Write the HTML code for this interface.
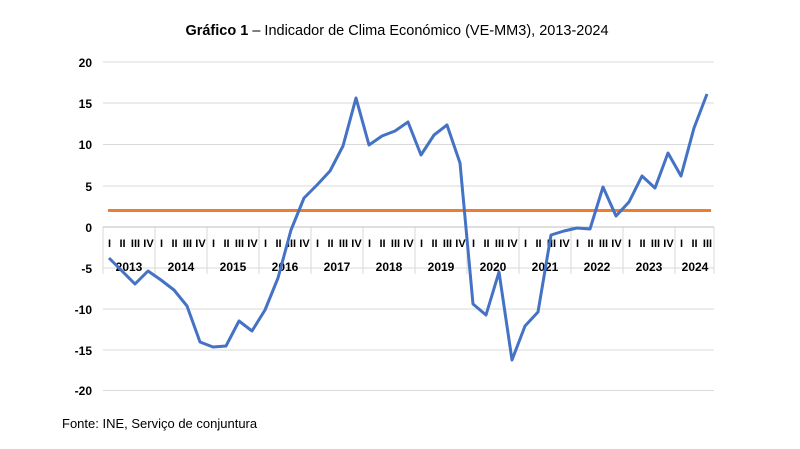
<!DOCTYPE html><html><head><meta charset="utf-8"><style>body{margin:0;background:#fff}</style></head><body>
<svg width="800" height="444" xmlns="http://www.w3.org/2000/svg" font-family="Liberation Sans, Arial, sans-serif">
<text x="397" y="35" text-anchor="middle" font-size="14.5"><tspan font-weight="bold">Gráfico 1</tspan> – Indicador de Clima Económico (VE-MM3), 2013-2024</text>
<g stroke="#d9d9d9" stroke-width="1">
<line x1="103" x2="714" y1="62" y2="62"/><line x1="103" x2="714" y1="103" y2="103"/><line x1="103" x2="714" y1="144.5" y2="144.5"/><line x1="103" x2="714" y1="186" y2="186"/><line x1="103" x2="714" y1="268" y2="268"/><line x1="103" x2="714" y1="309" y2="309"/><line x1="103" x2="714" y1="350" y2="350"/><line x1="103" x2="714" y1="390.5" y2="390.5"/>
<line x1="103" x2="103" y1="227" y2="274"/><line x1="155" x2="155" y1="227" y2="274"/><line x1="207" x2="207" y1="227" y2="274"/><line x1="259" x2="259" y1="227" y2="274"/><line x1="311" x2="311" y1="227" y2="274"/><line x1="363" x2="363" y1="227" y2="274"/><line x1="415" x2="415" y1="227" y2="274"/><line x1="467" x2="467" y1="227" y2="274"/><line x1="519" x2="519" y1="227" y2="274"/><line x1="571" x2="571" y1="227" y2="274"/><line x1="623" x2="623" y1="227" y2="274"/><line x1="675" x2="675" y1="227" y2="274"/><line x1="714" x2="714" y1="227" y2="274"/>
</g>
<line x1="103" x2="714" y1="227" y2="227" stroke="#bfbfbf"/>
<g font-size="12" font-weight="bold" text-anchor="end">
<text x="92" y="67">20</text><text x="92" y="108">15</text><text x="92" y="149">10</text><text x="92" y="191">5</text><text x="92" y="232">0</text><text x="92" y="273">-5</text><text x="92" y="314">-10</text><text x="92" y="355">-15</text><text x="92" y="395">-20</text>
</g>
<g font-size="11" font-weight="bold" text-anchor="middle" id="q"></g>
<g font-size="12" font-weight="bold" text-anchor="middle">
<text x="129" y="271">2013</text><text x="181" y="271">2014</text><text x="233" y="271">2015</text><text x="285" y="271">2016</text><text x="337" y="271">2017</text><text x="389" y="271">2018</text><text x="441" y="271">2019</text><text x="493" y="271">2020</text><text x="545" y="271">2021</text><text x="597" y="271">2022</text><text x="649" y="271">2023</text><text x="695" y="271">2024</text>
</g>
<line x1="108" x2="711" y1="210.5" y2="210.5" stroke="#ed7d31" stroke-width="3"/>
<polyline fill="none" stroke="#4472c4" stroke-width="3" stroke-linejoin="round" points="109,258 122,271 135,284 148,271 161,280 174,290 187,306 200,342 213,347 226,346 239,321 252,331 265,310 278,278 291,230 304,198 317,185 330,171 343,146 356,98 369,145 382,136 395,131 408,122 421,155 434,135 447,125 460,163 473,304 486,315 499,272 512,360 525,326 538,312 551,235 564,231 577,228 590,229 603,187 616,216 629,202 642,176 655,188 668,153 681,176 694,128 707,94"/>
<text x="62" y="428" font-size="13">Fonte: INE, Serviço de conjuntura</text>
<script>
var g=document.getElementById('q'),L=['I','II','III','IV'];
for(var i=0;i<47;i++){var t=document.createElementNS('http://www.w3.org/2000/svg','text');t.setAttribute('x',109.5+13*i);t.setAttribute('y',247);t.textContent=L[i%4];g.appendChild(t);}
</script>
</svg>
</body></html>
